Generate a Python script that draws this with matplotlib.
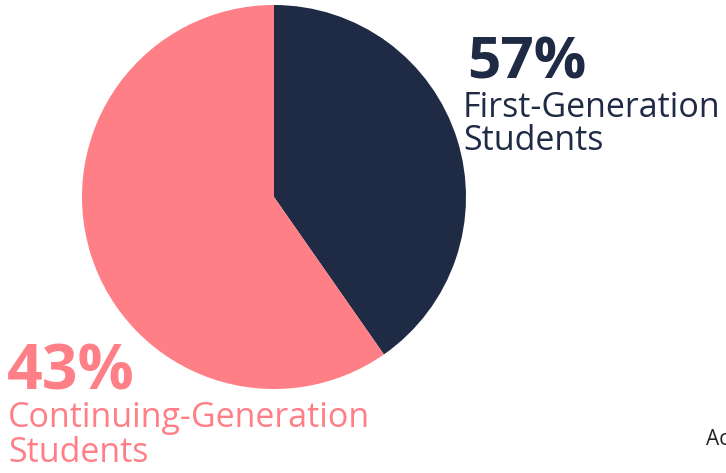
import matplotlib
matplotlib.use("Agg")
import matplotlib.pyplot as plt

# Data
categories = ["First-Generation Students", "Continuing-Generation Students"]
label_percents = [57, 43]          # percentages printed in the labels
slice_shares = [40.3, 59.7]        # share of the circle each slice covers in the picture
colors = ["#1f2a44", "#ff7f87"]
extra_text = "Ac"

W, H = 726, 473
fig = plt.figure(figsize=(W / 100, H / 100), dpi=100)
ax = fig.add_axes([0, 0, 1, 1])

ax.pie(slice_shares, colors=colors, startangle=90, counterclock=False,
       center=(274, H - 197), radius=192,
       wedgeprops=dict(linewidth=0, antialiased=True))
ax.set_xlim(0, W)
ax.set_ylim(0, H)
ax.set_aspect("equal")
ax.axis("off")

font = "Open Sans"
lab_size = 24.5
# First-generation label (right)
ax.text(467, H - 78, f"{label_percents[0]}%", color=colors[0], fontsize=42,
        fontweight="bold", family=font, ha="left", va="baseline")
ax.text(463, H - 117, "First-Generation", color=colors[0], fontsize=lab_size,
        family=font, ha="left", va="baseline")
ax.text(463, H - 150, "Students", color=colors[0], fontsize=lab_size,
        family=font, ha="left", va="baseline")

# Continuing-generation label (left)
ax.text(7, H - 390, f"{label_percents[1]}%", color=colors[1], fontsize=45,
        fontweight="bold", family=font, ha="left", va="baseline")
ax.text(8, H - 427, "Continuing-Generation", color=colors[1], fontsize=lab_size,
        family=font, ha="left", va="baseline")
ax.text(8, H - 462, "Students", color=colors[1], fontsize=lab_size,
        family=font, ha="left", va="baseline")

ax.text(706, H - 445, extra_text, color="#222222", fontsize=15,
        family=font, ha="left", va="baseline")

fig.savefig("out.png", dpi=100)
